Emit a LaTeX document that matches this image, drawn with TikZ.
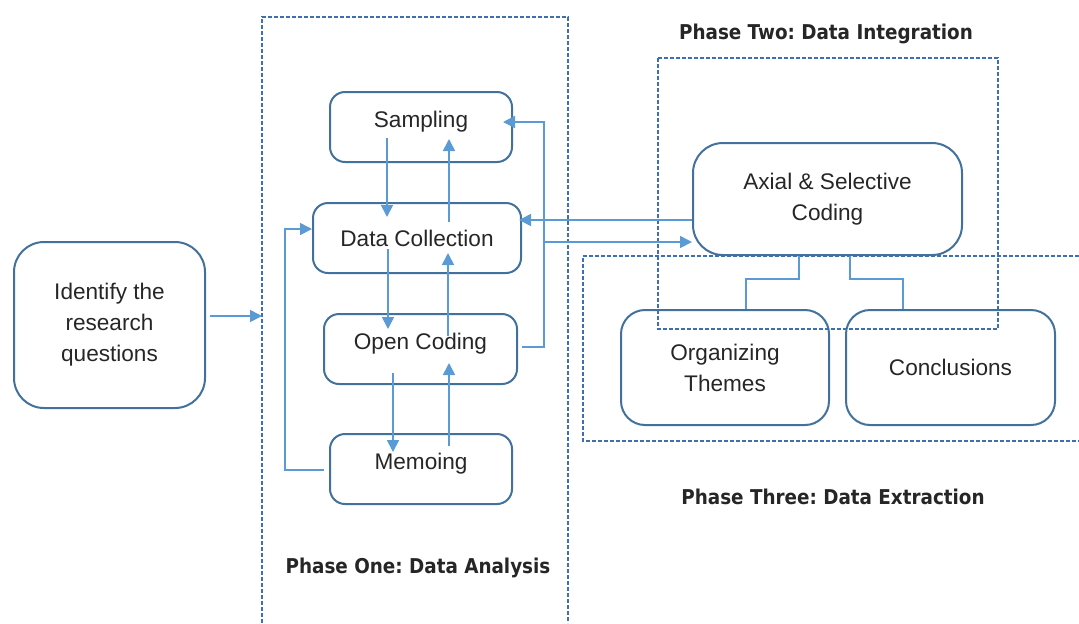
\documentclass[tikz,border=0pt]{standalone}
\usepackage{tikz}
\usepackage{xcolor}
\usepackage{fontspec}
\setmainfont{Liberation Sans}
\newfontfamily\phasefont{DejaVu Sans Condensed}
\usetikzlibrary{arrows.meta,calc}
\definecolor{arrowblue}{HTML}{5B9BD5}
\definecolor{edgeblue}{HTML}{41719C}
\definecolor{dashblue}{HTML}{3E6FB0}
\newcommand{\boxfont}{\fontsize{11.3}{15.5}\selectfont}
\newcommand{\labelfont}{\phasefont\bfseries\fontsize{10.2}{12}\selectfont}
\frenchspacing

\begin{document}
\begin{tikzpicture}[x=0.5pt, y=-0.5pt, >={Triangle[length=6pt,width=6pt]},
    stage/.style={draw=edgeblue, line width=1pt, inner sep=0pt, align=center, text=black!85, font=\boxfont},
    flow/.style={draw=arrowblue, line width=0.85pt},
    phase/.style={draw=dashblue, line width=0.6pt, dash pattern=on 2pt off 1pt},
    phasename/.style={font=\labelfont, text=black!85}]
        \useasboundingbox (0, 0) rectangle (1079, 623);

        % boxes
        \node [stage, rounded corners=15pt, minimum width=95.5pt, minimum height=83pt] (ident) at (109.5, 325) {Identify the\\research\\questions};
        \node [stage, rounded corners=7.5pt, minimum width=91pt, minimum height=35pt, text depth=8pt] (samp) at (421, 127) {Sampling};
        \node [stage, rounded corners=7.5pt, minimum width=104pt, minimum height=35pt] (dcol) at (417, 238) {Data Collection};
        \node [stage, rounded corners=7.5pt, minimum width=96.5pt, minimum height=35pt, text depth=8pt] (ocod) at (420.5, 349) {Open Coding};
        \node [stage, rounded corners=7.5pt, minimum width=91pt, minimum height=35pt, text depth=8pt] (memo) at (421, 469) {Memoing};
        \node [stage, rounded corners=15pt, minimum width=134.5pt, minimum height=56pt] (axial) at (827.5, 199) {Axial \& Selective\\Coding};
        \node [stage, rounded corners=12pt, minimum width=104pt, minimum height=57.5pt] (orgth) at (725, 367.5) {Organizing\\Themes};
        \node [stage, rounded corners=12pt, minimum width=104.5pt, minimum height=57.5pt] (concl) at (950.5, 367.5) {Conclusions};

        % phase frames
        \draw[phase] (262, 623) -- (262, 17) -- (568, 17) -- (568, 623);
        \draw[phase] (658, 58) rectangle (998, 329);
        \draw[phase] (1079, 256) -- (583, 256) -- (583, 441) -- (1079, 441);

        % arrows in phase one
        \coordinate (entry) at (262, 316);
        \draw[flow, ->] ($(ident.east)+(4,-9)$) -- (entry);
        \draw[flow, ->] ($(samp.south)+(-34,-25)$) -- ($(dcol.north)+(-30,15)$);
        \draw[flow, ->] ($(dcol.north)+(32,20)$) -- ($(samp.south)+(28,-24)$);
        \draw[flow, ->] ($(dcol.south)+(-29,-25)$) -- ($(ocod.north)+(-32.5,16)$);
        \draw[flow, ->] ($(ocod.north)+(27.5,23)$) -- ($(dcol.south)+(31,-21)$);
        \draw[flow, ->] ($(ocod.south)+(-27.5,-12)$) -- ($(memo.north)+(-28,19)$);
        \draw[flow, ->] ($(memo.north)+(28,13)$) -- ($(ocod.south)+(28.5,-22)$);
        \draw[flow, ->] ($(memo.west)+(-5,1)$) -- ++(-39, 0) |- ($(dcol.west)+(0,-9)$);
        \draw[flow, ->] ($(ocod.east)+(4,-2)$) -- ++(22, 0) |- ($(samp.east)+(-10,-5)$);

        % arrows to phase two
        \coordinate (branch) at ($(ocod.east)+(26,-107)$);
        \draw[flow, ->] ($(axial.west)+(0,21)$) -- ($(dcol.east)+(-3,-18)$);
        \draw[flow, ->] (branch) -- ($(axial.west)+(0,43)$);
        \draw[flow] ($(axial.south)+(-28.5,0)$) -- ++(0, 23) -| ($(orgth.north)+(21,0)$);
        \draw[flow] ($(axial.south)+(22.5,0)$) -- ++(0, 23) -| ($(concl.north)+(-47.5,0)$);

        % labels
        \node [phasename] (twoname) at (826, 34) {Phase Two: Data Integration};
        \node [phasename] (threename) at (833, 497) {Phase Three: Data Extraction};
        \node [phasename] (onename) at (418, 568) {Phase One: Data Analysis};
    \end{tikzpicture}
\end{document}
